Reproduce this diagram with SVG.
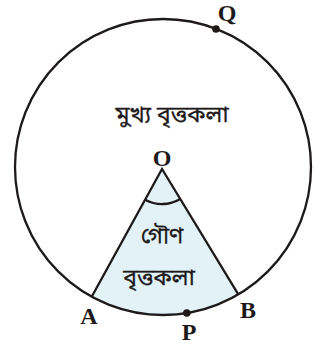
<svg xmlns="http://www.w3.org/2000/svg" width="324" height="348" viewBox="0 0 324 348">
<style>
.ln{fill:none;stroke:#1e1a1a;stroke-width:2.3}
.lbl{font-family:"Liberation Serif","DejaVu Serif",serif;font-weight:bold;font-size:24px;fill:#1e1a1a;text-anchor:middle}
.bn{font-family:"Noto Sans Bengali","Noto Serif Bengali","Lohit Bengali","Noto Sans",sans-serif;font-size:23px;fill:#1e1a1a;text-anchor:middle;stroke:#1e1a1a;stroke-width:0.3}
.dot{fill:#1e1a1a}
</style>
<rect width="324" height="348" fill="#fff"/>
<g id="sector">
<path d="M162 169 L91.7 296.7 A148 148 0 0 0 238.3 294.4 Z" fill="#e2f2f6" stroke="none"/>
</g>
<g id="connectors">
<circle class="ln" cx="163" cy="167" r="148"/>
<path class="ln" d="M91.7 296.7 L162 169 L238.3 294.4"/>
<path class="ln" d="M145.1 199.7 A35 35 0 0 0 180.2 198.9"/>
</g>
<g id="Q"><circle class="dot" cx="216" cy="29" r="3.8"/><text class="lbl" x="227" y="21">Q</text></g>
<g id="P"><circle class="dot" cx="186.8" cy="313" r="3.8"/><text class="lbl" x="189" y="340">P</text></g>
<g id="O"><text class="lbl" x="162" y="166">O</text></g>
<g id="A"><text class="lbl" x="89" y="324">A</text></g>
<g id="B"><text class="lbl" x="248" y="318">B</text></g>
<g id="major"><text class="bn" x="172" y="122">মুখ্য বৃত্তকলা</text></g>
<g id="minor"><text class="bn" x="162" y="243">গৌণ</text><text class="bn" x="159" y="285">বৃত্তকলা</text></g>
</svg>
